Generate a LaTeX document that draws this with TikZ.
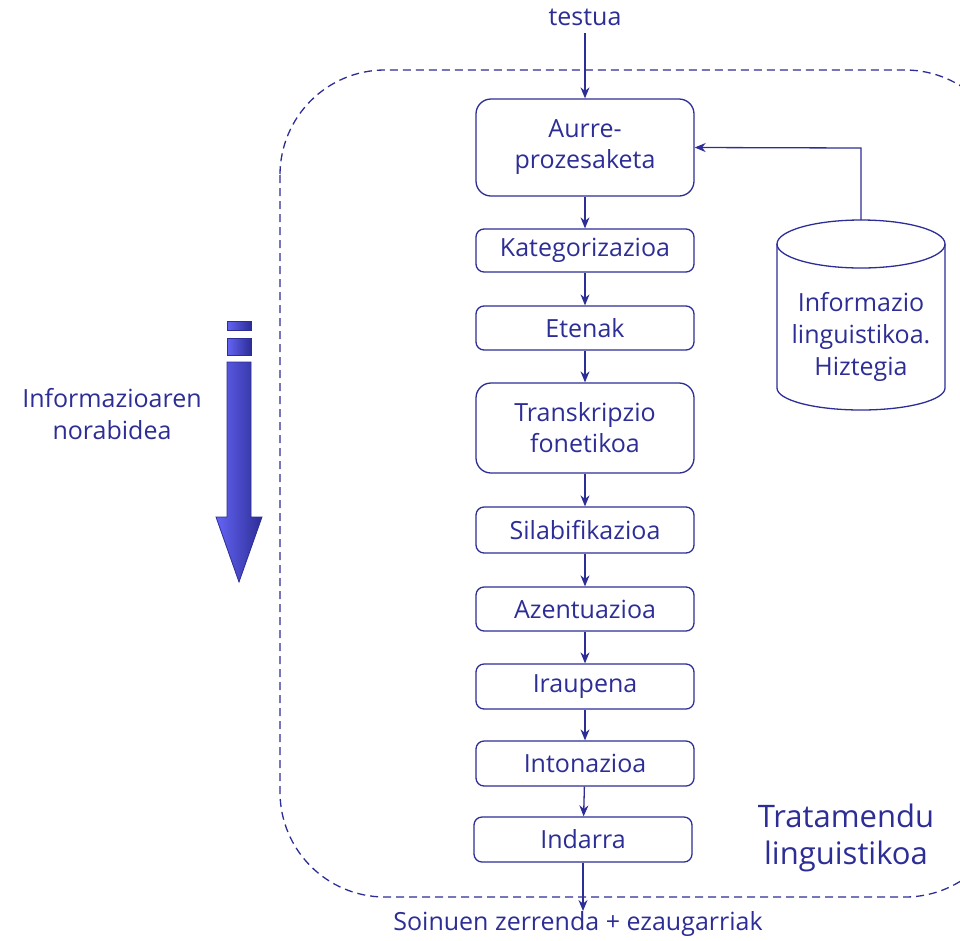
\documentclass[tikz,border=0pt]{standalone}
\usepackage{fontspec}
\setmainfont{Open Sans}
\usetikzlibrary{arrows.meta}
\definecolor{navy}{RGB}{45,45,150}
\definecolor{arrlight}{RGB}{100,100,245}
\definecolor{arrdark}{RGB}{45,45,150}
\tikzset{
  stepbox/.style={draw=navy, line width=1.3pt, rounded corners=8pt, minimum width=218pt, text=navy, font=\fontsize{25}{31}\selectfont, inner sep=0pt, align=center},
  bigbox/.style={stepbox, rounded corners=15pt},
  conn/.style={draw=navy, line width=1.3pt, -{Stealth[length=11pt,width=9pt]}},
  lbl/.style={text=navy, font=\fontsize{25}{32}\selectfont, align=center, inner sep=0pt},
}
\begin{document}
\begin{tikzpicture}[x=1pt,y=-1pt]
\useasboundingbox (0,0) rectangle (960,940);
\begin{scope}
\clip (0,0) rectangle (960,940);
\draw[navy, line width=1.3pt, dash pattern=on 8pt off 5pt, rounded corners=105pt] (280,70) rectangle (1010,897);
\end{scope}
% boxes
\node[bigbox, minimum height=97pt] (a) at (585,147.5) {Aurre-\\prozesaketa};
\node[stepbox, minimum height=43pt] (b) at (585,250.5) {Kategorizazioa};
\node[stepbox, minimum height=44pt] (c) at (585,328) {Etenak};
\node[bigbox, minimum height=90pt] (d) at (585,428) {Transkripzio\\fonetikoa};
\node[stepbox, minimum height=46pt] (e) at (585,530) {Silabifikazioa};
\node[stepbox, minimum height=44pt] (f) at (585,609) {Azentuazioa};
\node[stepbox, minimum height=45pt] (g) at (585,686.5) {Iraupena};
\node[stepbox, minimum height=45pt] (h) at (585,763.5) {Intonazioa};
\node[stepbox, minimum height=45pt] (i) at (583,839.5) {Indarra};
% in/out texts
\node[lbl] (t) at (585,17) {testua};
\node[lbl] (s) at (578,924) {Soinuen zerrenda + ezaugarriak};
\coordinate (sin) at (585,33);
\coordinate (sout) at (583,911);
\draw[conn] (sin) -- (a.north);
\draw[conn] (a) -- (b);
\draw[conn] (b) -- (c);
\draw[conn] (c) -- (d);
\draw[conn] (d) -- (e);
\draw[conn] (e) -- (f);
\draw[conn] (f) -- (g);
\draw[conn] (g) -- (h);
\draw[conn] (h) -- (i);
\draw[conn] (i.south) -- (sout);
% database cylinder
\draw[navy, line width=1.3pt] (777,244) -- (777,388) arc[start angle=180, end angle=0, x radius=84, y radius=22] -- (945,244);
\draw[navy, line width=1.3pt] (861,244) ellipse[x radius=84, y radius=24];
\coordinate (dbtop) at (861,220);
\node[lbl, font=\fontsize{25}{32}\selectfont] (dbt) at (861,337) {Informazio\\linguistikoa.\\Hiztegia};
\coordinate (k) at (861,148);
\draw[conn] (dbtop) -- (k) -- (a.east);
% direction arrow
\shade[left color=arrlight, right color=arrdark, draw=navy, line width=0.8pt] (227,321) rectangle (251,330);
\shade[left color=arrlight, right color=arrdark, draw=navy, line width=0.8pt] (227,338) rectangle (251,355);
\shade[left color=arrlight, right color=arrdark, draw=navy, line width=0.8pt]
  (227,362) -- (251,362) -- (251,517) -- (262,517) -- (239,582) -- (216,517) -- (227,517) -- cycle;
\node[lbl] (dir) at (112,414) {Informazioaren\\norabidea};
\node[lbl, font=\fontsize{31}{37}\selectfont] (tl) at (846,838) {Tratamendu\\linguistikoa};
\end{tikzpicture}
\end{document}
